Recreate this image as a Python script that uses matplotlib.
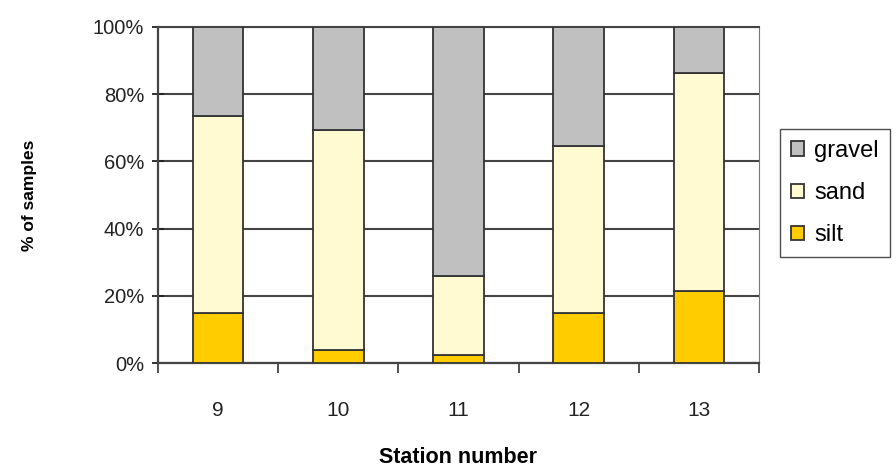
import matplotlib.pyplot as plt
import numpy as np
from matplotlib.ticker import PercentFormatter

plt.rcParams['font.family'] = ['Liberation Sans', 'DejaVu Sans']

stations = ['9', '10', '11', '12', '13']
silt = [14.8, 3.9, 2.4, 14.8, 21.4]
sand_top = [73.5, 69.3, 25.9, 64.6, 86.4]
sand = [t - s for t, s in zip(sand_top, silt)]
gravel = [100 - t for t in sand_top]

fig = plt.figure(figsize=(8.96, 4.72), dpi=100)
ax = fig.add_axes([0.1763, 0.2309, 0.6708, 0.7119])

x = np.arange(len(stations))
w = 0.42
edge = '#333333'
b_silt = ax.bar(x, silt, w, color='#FFCC00', edgecolor=edge, linewidth=1.3, label='silt', zorder=3)
b_sand = ax.bar(x, sand, w, bottom=silt, color='#FFFAD2', edgecolor=edge, linewidth=1.3, label='sand', zorder=3)
b_grav = ax.bar(x, gravel, w, bottom=sand_top, color='#C0C0C0', edgecolor=edge, linewidth=1.3, label='gravel', zorder=3)

ax.set_xlim(-0.5, len(stations) - 0.5)
ax.set_ylim(0, 100)
ax.set_yticks(np.arange(0, 101, 20))
ax.yaxis.set_major_formatter(PercentFormatter(decimals=0))
ax.yaxis.grid(True, color='#444444', linewidth=1.5, zorder=0)

ax.set_xticks(x)
ax.set_xticklabels(stations)
ax.set_xticks(np.arange(-0.5, len(stations)), minor=True)
ax.tick_params(axis='x', which='major', length=0, pad=27, labelsize=15, colors='#222222')
ax.tick_params(axis='x', which='minor', length=7, width=1.3, direction='out', color='#444444')
ax.tick_params(axis='y', length=8, width=1.3, direction='inout', labelsize=14.5, colors='#222222', pad=6)

for s in ['left', 'bottom']:
    ax.spines[s].set_color('#444444')
    ax.spines[s].set_linewidth(1.6)
ax.spines['right'].set_color('#777777')
ax.spines['top'].set_color('#444444')
ax.spines['top'].set_linewidth(1.5)

ax.set_xlabel('Station number', fontsize=15.5, fontweight='bold', labelpad=20)
ax.set_ylabel('% of samples', fontsize=12.5, fontweight='bold', labelpad=40)

leg = ax.legend(handles=[b_grav, b_sand, b_silt], loc='center left', bbox_to_anchor=(1.035, 0.506),
                fontsize=17, frameon=True, fancybox=False, edgecolor='#222222',
                handlelength=0.55, handleheight=0.55, handletextpad=0.45, borderpad=0.45,
                labelspacing=0.85, borderaxespad=0)
leg.get_frame().set_linewidth(1.0)

fig.savefig('out.png', dpi=100)
